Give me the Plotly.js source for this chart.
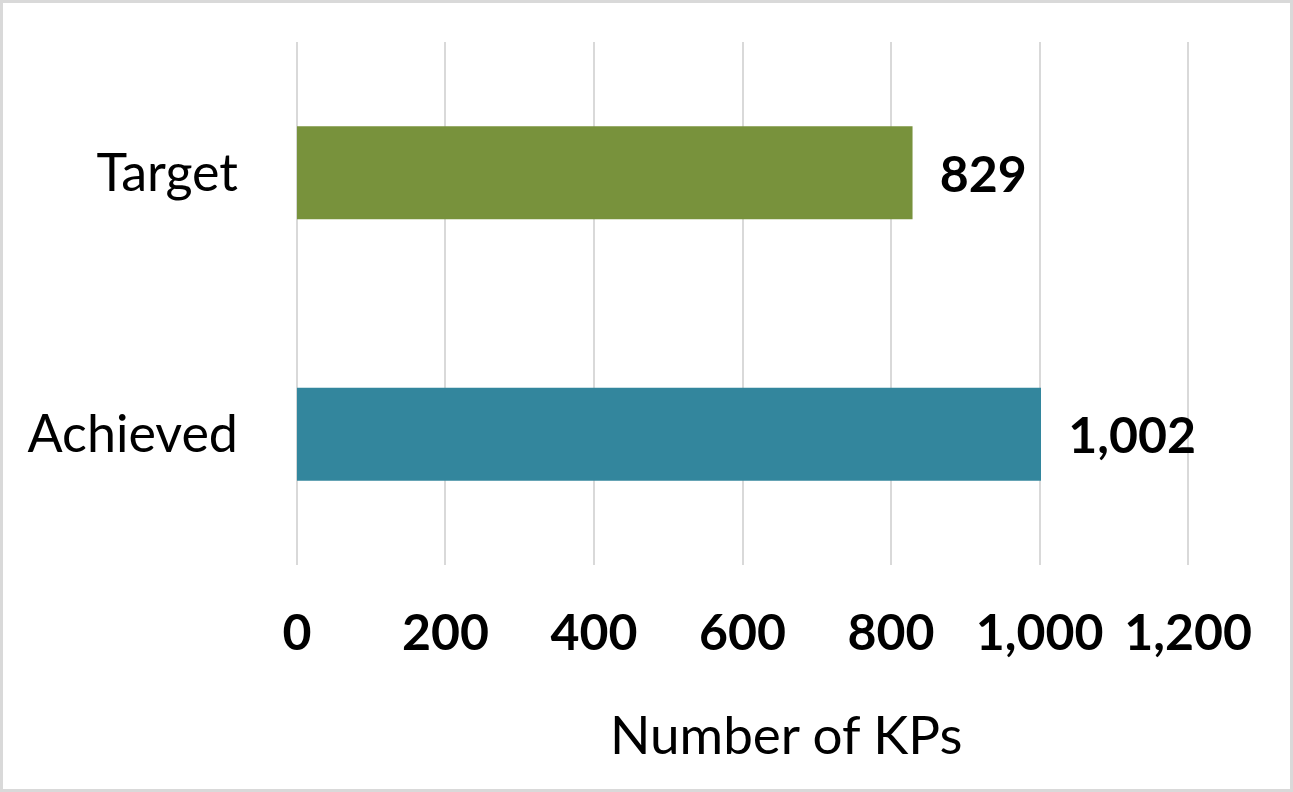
<!DOCTYPE html>
<html><head><meta charset="utf-8">
<script src="https://cdn.plot.ly/plotly-3.0.1.min.js"></script>
<style>html,body{margin:0;padding:0;background:#fff}#chart{width:1293px;height:792px;box-sizing:border-box;border:3px solid #d9d9d9}</style>
</head><body><div id="chart"></div>
<script>
const categories = ["Achieved", "Target"];
const values = [1002, 829];
const barColors = ["#33869d", "#78923c"];
const xTicks = [0, 200, 400, 600, 800, 1000, 1200];
const xTitle = "Number of KPs";

const fontFam = "Lato, 'Open Sans', sans-serif";
Plotly.newPlot("chart", [{
  type: "bar", orientation: "h",
  x: values, y: categories,
  marker: {color: barColors},
  width: 0.355,
  text: values.map(v => v.toLocaleString("en-US")),
  texttemplate: "  %{text}",
  textposition: "outside",
  textfont: {family: fontFam, size: 50, color: "#000", weight: "bold"},
  cliponaxis: false,
  hoverinfo: "skip"
}], {
  width: 1287, height: 786,
  margin: {l: 291, r: 99, t: 39, b: 224},
  paper_bgcolor: "#fff", plot_bgcolor: "#fff",
  showlegend: false,
  xaxis: {
    range: [-4, 1204], tickvals: xTicks, ticktext: xTicks.map(v => v.toLocaleString("en-US")),
    showgrid: true, gridcolor: "#d9d9d9", gridwidth: 2, zeroline: false, showline: false,
    ticks: "", ticklabelstandoff: 34,
    tickfont: {family: fontFam, size: 50, color: "#000", weight: "bold"}
  },
  yaxis: {
    range: [-0.5, 1.5], showgrid: false, zeroline: false, showline: false,
    ticks: "", ticklabelstandoff: 55,
    tickfont: {family: fontFam, size: 52, color: "#000"}
  },
  annotations: [{
    text: xTitle, xref: "paper", yref: "paper", x: 0.548, y: -0.323,
    xanchor: "center", yanchor: "middle", showarrow: false,
    font: {family: fontFam, size: 53, color: "#000"}
  }]
}, {staticPlot: true});
</script></body></html>
